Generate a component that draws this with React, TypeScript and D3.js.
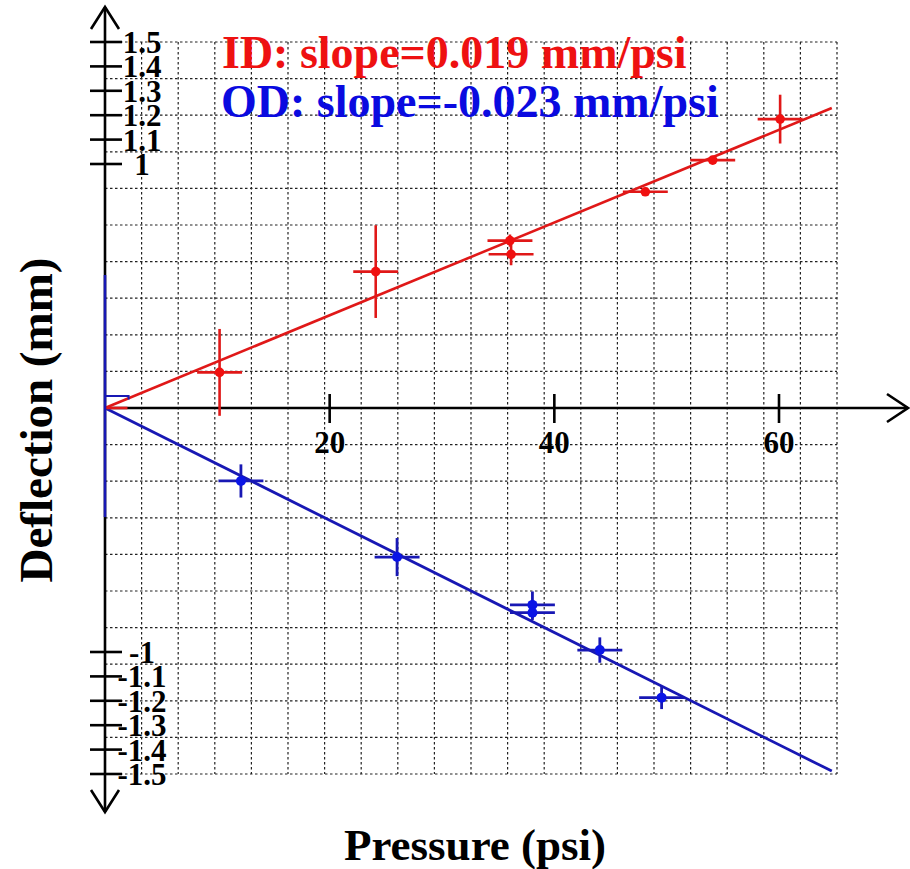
import React from "react";
import * as d3 from "d3";

// ---- data ----
const idPressure = [10.2, 24.1, 36.05, 36.15, 48.1, 54.1, 60.1];
const idDeflection = [0.146, 0.559, 0.686, 0.63, 0.886, 1.016, 1.184];
const idYErr = [0.178, 0.19, 0.025, 0.045, 0.016, 0.016, 0.1];

const odPressure = [12.1, 26.0, 38.05, 38.05, 44.05, 49.55];
const odDeflection = [-0.299, -0.611, -0.807, -0.839, -0.992, -1.187];
const odYErr = [0.068, 0.078, 0.055, 0.03, 0.052, 0.047];

const xErr = 2; // psi
const idSlope = 0.019;
const odSlope = -0.023;
const fitEnd = 64.7;

const xTicks = [20, 40, 60];
const yTicksPos = [1, 1.1, 1.2, 1.3, 1.4, 1.5];
const yTicksNeg = [-1, -1.1, -1.2, -1.3, -1.4, -1.5];

const idLabel = "ID: slope=0.019 mm/psi";
const odLabel = "OD: slope=-0.023 mm/psi";
const xTitle = "Pressure (psi)";
const yTitle = "Deflection (mm)";

const gridCells = 20;

export default function App() {
  const W = 910, H = 869;
  const x = d3.scaleLinear().domain([0, 60]).range([105, 779]);
  const y = d3.scaleLinear().domain([-1.5, 1.5]).range([774, 42]);
  const xMax = x.invert(837);
  const xArrow = x.invert(908);
  const font = "'Liberation Serif', 'Times New Roman', serif";

  const red = "#e01818";
  const redDot = "#f01010";
  const blue = "#1818b4";
  const blueDot = "#0a14e6";

  const gx = d3.range(gridCells + 1).map((i) => (i * xMax) / gridCells);
  const gy = d3.range(gridCells + 1).map((i) => -1.5 + (i * 3) / gridCells);

  const line = d3.line<[number, number]>().x((d) => x(d[0])).y((d) => y(d[1]));

  const x0 = x(0), y0 = y(0);

  return (
    <svg width={W} height={H} style={{ position: "absolute", left: 0, top: 0, background: "#fff" }}>
      <rect width={W} height={H} fill="#fff" />
      {/* grid */}
      <g stroke="#222" strokeWidth={1.2} strokeDasharray="2.5,2.5">
        {gx.map((v, i) => (
          <line key={"gx" + i} x1={x(v)} x2={x(v)} y1={y(1.5)} y2={y(-1.5)} />
        ))}
        {gy.map((v, i) => (
          <line key={"gy" + i} x1={x(0)} x2={x(xMax)} y1={y(v)} y2={y(v)} />
        ))}
      </g>

      {/* axes */}
      <g stroke="#000" strokeWidth={2.6} fill="none">
        <line x1={x0} x2={x(xArrow)} y1={y0} y2={y0} />
        <polyline points={`${x(xArrow) - 21},${y0 - 14} ${x(xArrow)},${y0} ${x(xArrow) - 21},${y0 + 14}`} />
        <line x1={x0} x2={x0} y1={7} y2={812} />
        <polyline points={`${x0 - 14},29 ${x0},7 ${x0 + 14},29`} />
        <polyline points={`${x0 - 14},790 ${x0},812 ${x0 + 14},790`} />
        {xTicks.map((t) => (
          <line key={"xt" + t} x1={x(t)} x2={x(t)} y1={y0 - 14} y2={y0 + 15} />
        ))}
        {[...yTicksPos, ...yTicksNeg].map((t) => (
          <line key={"yt" + t} x1={x0 - 15} x2={x0 + 17} y1={y(t)} y2={y(t)} />
        ))}
      </g>

      {/* tick labels */}
      <g fontFamily={font} fontWeight="bold" fontSize={31} fill="#000" textAnchor="middle">
        {xTicks.map((t) => (
          <text key={"xl" + t} x={x(t)} y={453}>{t}</text>
        ))}
        {[...yTicksPos, ...yTicksNeg].map((t) => (
          <text key={"yl" + t} x={142} y={y(t) + 11}>{String(t)}</text>
        ))}
      </g>

      {/* fit lines */}
      <path d={line([[0, 0], [fitEnd, idSlope * fitEnd]]) || ""} stroke={red} strokeWidth={2.6} fill="none" />
      <path d={line([[0, 0], [fitEnd, odSlope * fitEnd]]) || ""} stroke={blue} strokeWidth={2.8} fill="none" />

      {/* origin artifacts */}
      <line x1={x0} x2={x(xErr)} y1={y0} y2={y0} stroke={red} strokeWidth={2.6} />
      <line x1={x0} x2={x0} y1={y(0.545)} y2={y(-0.447)} stroke={blue} strokeWidth={2.6} />
      <path d={`M${x0},${y(0.049)} H${x(2.1)} V${y(0.035)}`} stroke={blue} strokeWidth={2} fill="none" />

      {/* ID data */}
      <g stroke={red} strokeWidth={2.6}>
        {idPressure.map((p, i) => (
          <g key={"id" + i}>
            <line x1={x(p - xErr)} x2={x(p + xErr)} y1={y(idDeflection[i])} y2={y(idDeflection[i])} />
            <line x1={x(p)} x2={x(p)} y1={y(idDeflection[i] + idYErr[i])} y2={y(idDeflection[i] - idYErr[i])} />
          </g>
        ))}
      </g>
      <g fill={redDot}>
        {idPressure.map((p, i) => (
          <circle key={"idc" + i} cx={x(p)} cy={y(idDeflection[i])} r={4.8} />
        ))}
      </g>

      {/* OD data */}
      <g stroke={blue} strokeWidth={2.8}>
        {odPressure.map((p, i) => (
          <g key={"od" + i}>
            <line x1={x(p - xErr)} x2={x(p + xErr)} y1={y(odDeflection[i])} y2={y(odDeflection[i])} />
            <line x1={x(p)} x2={x(p)} y1={y(odDeflection[i] + odYErr[i])} y2={y(odDeflection[i] - odYErr[i])} />
          </g>
        ))}
      </g>
      <g fill={blueDot}>
        {odPressure.map((p, i) => (
          <circle key={"odc" + i} cx={x(p)} cy={y(odDeflection[i])} r={5} />
        ))}
      </g>

      {/* legend texts */}
      <text x={222} y={68} fontFamily={font} fontWeight="bold" fontSize={46} fill="#ee1111">{idLabel}</text>
      <text x={221} y={117} fontFamily={font} fontWeight="bold" fontSize={46} fill="#0a0ae0">{odLabel}</text>

      {/* axis titles */}
      <text x={475} y={860} fontFamily={font} fontWeight="bold" fontSize={45} textAnchor="middle" fill="#000">{xTitle}</text>
      <text transform="translate(52,420) rotate(-90)" fontFamily={font} fontWeight="bold" fontSize={47} textAnchor="middle" fill="#000">{yTitle}</text>
    </svg>
  );
}
